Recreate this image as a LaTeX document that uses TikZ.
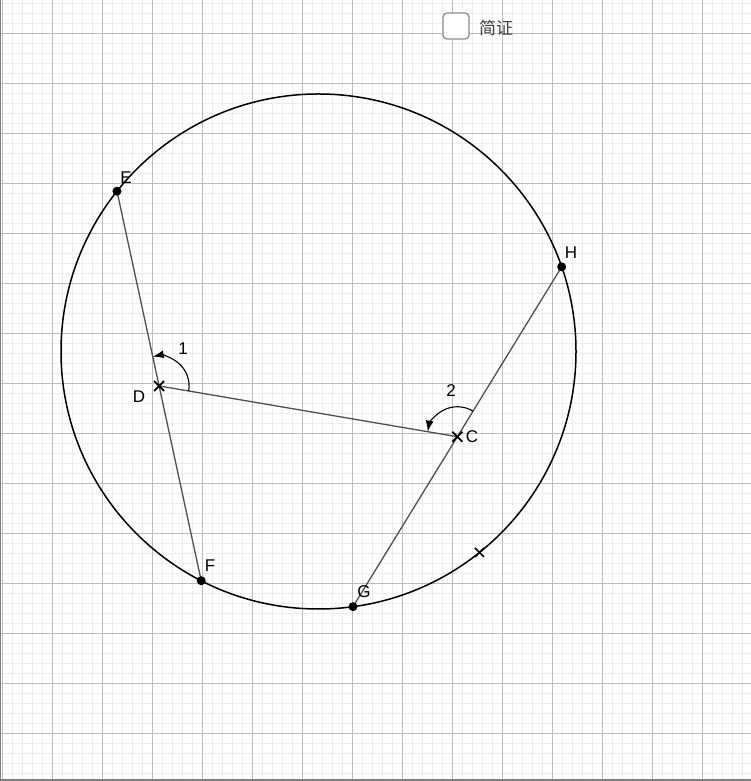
\documentclass[tikz,border=0pt]{standalone}
\usepackage{fontspec}
\setmainfont{Liberation Sans}
\newfontfamily\cjk{Noto Sans CJK SC}
\usetikzlibrary{angles,arrows.meta,calc}
\definecolor{minorgrid}{HTML}{EDEDED}
\definecolor{majorgrid}{HTML}{BDBDBD}
\definecolor{chordcol}{HTML}{505050}
\tikzset{
  lbl/.style={font=\fontsize{17}{17}\selectfont, inner sep=0pt},
  dotpt/.style={circle, fill=black, inner sep=0pt, minimum size=9pt},
  chord/.style={draw=chordcol, line width=1.3pt},
  xmark/.style={draw=black, line width=1.8pt},
  angarc/.style={draw=black, line width=1.1pt, -{Latex[length=11pt,width=8pt]}, angle radius=30pt}
}
\begin{document}
\begin{tikzpicture}[x=1pt,y=1pt]
\useasboundingbox (0,0) rectangle (751,781);
\fill[white] (0,0) rectangle (751,781);
% grid
\foreach \k in {0,...,74} {\draw[minorgrid, line width=1pt] (2+10*\k,0) -- (2+10*\k,781);}
\foreach \k in {0,...,77} {\draw[minorgrid, line width=1pt] (0,777-10*\k) -- (751,777-10*\k);}
\foreach \k in {0,...,14} {\draw[majorgrid, line width=1pt] (2+50*\k,0) -- (2+50*\k,781);}
\foreach \k in {0,...,14} {\draw[majorgrid, line width=1pt] (0,747-50*\k) -- (751,747-50*\k);}
\draw[gray, line width=1.2pt] (0.6,0) -- (0.6,781);
\draw[gray, line width=1.2pt] (0,1) -- (751,1);
% checkbox
\node[draw=gray!90, line width=1.3pt, rounded corners=4pt, fill=white, minimum width=26pt, minimum height=26pt, inner sep=0pt] (box) at (456,755) {};
\node[font=\cjk\fontsize{17}{17}\selectfont, text=black!75, inner sep=0pt, anchor=west] (title) at (479,753) {简证};
% circle
\coordinate (O) at (318.5,429.5);
\node[draw=black, line width=1.5pt, circle, minimum size=515pt, inner sep=0pt] (circ) at (O) {};
\coordinate (E) at ($(O)+(141.5:257.5)$);
\coordinate (F) at ($(O)+(242.9:257.5)$);
\coordinate (G) at ($(O)+(277.7:257.5)$);
\coordinate (H) at ($(O)+(19.2:257.5)$);
\coordinate (X) at ($(O)+(-51.3:257.5)$);
\coordinate (D) at ($(E)!0.5!(F)$);
\coordinate (C) at ($(G)!0.5!(H)$);
% chords
\draw[chord] (E) -- (F);
\draw[chord] (G) -- (H);
\draw[chord] (D) -- (C);
% angles
\pic[angarc] {angle = C--D--E};
\pic[angarc] {angle = H--C--D};
% points
\node[dotpt] (Ed) at (E) {};
\node[dotpt] (Fd) at (F) {};
\node[dotpt] (Gd) at (G) {};
\node[dotpt] (Hd) at (H) {};
% crosses
\foreach \p in {D,C} {\draw[xmark] ($(\p)+(-5,-5)$) -- ($(\p)+(5,5)$) ($(\p)+(-5,5)$) -- ($(\p)+(5,-5)$);}
\draw[xmark, line width=1.5pt] ($(X)+(-4.5,-4.5)$) -- ($(X)+(4.5,4.5)$) ($(X)+(-4.5,4.5)$) -- ($(X)+(4.5,-4.5)$);
% labels
\node[lbl] (lE) at (126,603) {E};
\node[lbl] (lH) at (571,528) {H};
\node[lbl] (lF) at (210,215) {F};
\node[lbl] (lG) at (364,189) {G};
\node[lbl] (lD) at (139,384) {D};
\node[lbl] (lC) at (472,344) {C};
\node[lbl] (l1) at (183,432) {1};
\node[lbl] (l2) at (451,390) {2};
\end{tikzpicture}
\end{document}
